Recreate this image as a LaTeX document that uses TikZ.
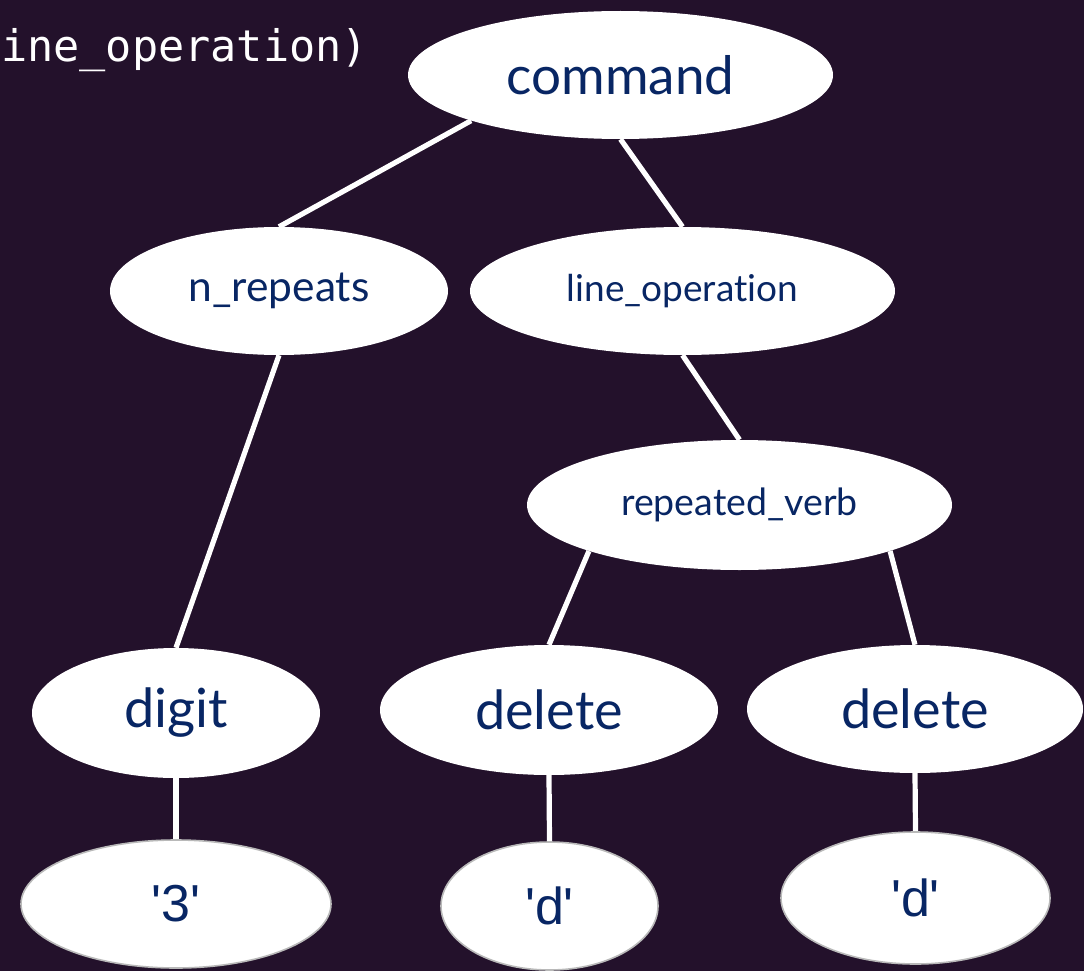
\documentclass[tikz,border=0pt]{standalone}
\usepackage{fontspec}
\setmainfont{Lato}[Ligatures=NoCommon]
\newfontfamily\leaffont{Liberation Sans}
\newfontfamily\codefont{DejaVu Sans Mono}
\usetikzlibrary{shapes.geometric,backgrounds}
\definecolor{bgc}{RGB}{35,17,43}
\definecolor{navy}{RGB}{8,38,100}
\definecolor{leafborder}{RGB}{185,185,185}
\tikzset{
  inode/.style={ellipse, fill=white, inner sep=0pt, text=navy},
  leaf/.style={ellipse, fill=white, draw=leafborder, line width=1.6pt, inner sep=0pt, text=navy, font=\leaffont\fontsize{52}{60}\selectfont},
  conn/.style={draw=white, line width=5.2pt}
}
\begin{document}
\begin{tikzpicture}[x=1pt,y=1pt]
\useasboundingbox (0,0) rectangle (1084,-971);
\node[anchor=base west, inner sep=0pt, text=white, font=\codefont\fontsize{43.5}{50}\selectfont] (code) at (1,-62) {ine\_operation)};
\node[inode, minimum width=425, minimum height=128, font=\fontsize{53}{60}\selectfont] (command) at (620.5,-75) {command};
\node[inode, minimum width=338, minimum height=128, font=\fontsize{42.5}{50}\selectfont] (nrep) at (279,-291) {n\_repeats};
\node[inode, minimum width=425, minimum height=128, font=\fontsize{37}{44}\selectfont] (lineop) at (682.5,-291) {line\_operation};
\node[inode, minimum width=425, minimum height=130, font=\fontsize{37.5}{44}\selectfont] (rverb) at (739.5,-505) {repeated\_verb};
\node[inode, minimum width=288, minimum height=130, font=\fontsize{54}{60}\selectfont] (digit) at (176,-713) {digit};
\node[inode, minimum width=338, minimum height=130, font=\fontsize{54}{60}\selectfont] (del1) at (549,-710) {delete};
\node[inode, minimum width=336, minimum height=128, font=\fontsize{54}{60}\selectfont] (del2) at (915,-709) {delete};
\node[leaf, minimum width=310, minimum height=128] (three) at (176,-904) {'3'};
\node[leaf, minimum width=217, minimum height=128] (d1) at (549.5,-906) {'d'};
\node[leaf, minimum width=269, minimum height=132] (d2) at (915.5,-898) {'d'};
\begin{pgfonlayer}{background}
\fill[bgc] (0,0) rectangle (1084,-971);
\draw[conn] (command.197) -- (nrep.north);
\draw[conn] (command.south) -- (lineop.north);
\draw[conn] (nrep.south) -- (digit.north);
\draw[conn] (lineop.south) -- (rverb.north);
\draw[conn] (rverb.197) -- (del1.north);
\draw[conn] (rverb.343) -- (del2.north);
\draw[conn] (digit.south) -- (three.north);
\draw[conn] (del1.south) -- (d1.north);
\draw[conn] (del2.south) -- (d2.north);
\end{pgfonlayer}
\end{tikzpicture}
\end{document}
